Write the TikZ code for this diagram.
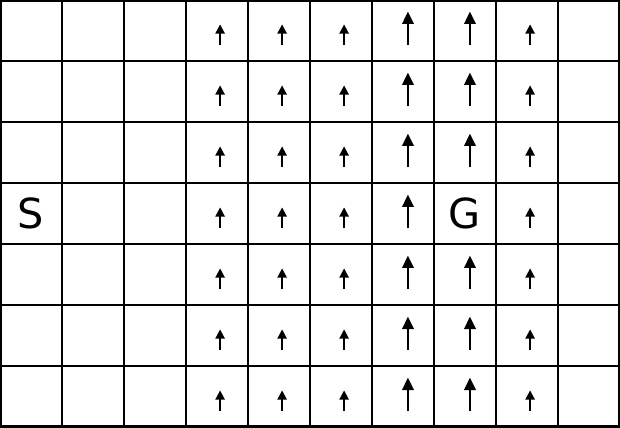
\documentclass[tikz,border=0pt]{standalone}
\usepackage{fontspec}
\setmainfont{DejaVu Sans}
\usetikzlibrary{arrows.meta}

\begin{document}
\begin{tikzpicture}[x=1cm, y=0.9839cm, font=\fontsize{19}{22}\selectfont,
  wind/.style={line width=0.85pt, -{Triangle[length=1.5mm, width=1.5mm]}},
  strongwind/.style={line width=1.05pt, -{Triangle[length=2mm, width=1.85mm]}}]

\useasboundingbox (0,0) rectangle (10,7);
\fill[white] (0,0) rectangle (10,7);

% grid
\foreach \c in {1,...,9}
  \draw[line width=0.9pt] (\c,0) -- (\c,7);
\foreach \r in {1,...,6}
  \draw[line width=0.9pt] (0,\r) -- (10,\r);
\draw[line width=1.4pt] (0,0) rectangle (10,7);

% wind
\foreach \c in {3,4,5,8}
  \foreach \r in {0,...,6}
    \draw[wind] (\c+0.55,\r+0.26) -- (\c+0.55,\r+0.6);

\foreach \c in {6,7}
  \foreach \r in {0,1,2,4,5,6}
    \draw[strongwind] (\c+0.58,\r+0.26) -- (\c+0.58,\r+0.81);
\draw[strongwind] (6.58,3.26) -- (6.58,3.81);

\node (start) at (0.5,3.5) {S};
\node (goal) at (7.5,3.5) {G};

\end{tikzpicture}
\end{document}
